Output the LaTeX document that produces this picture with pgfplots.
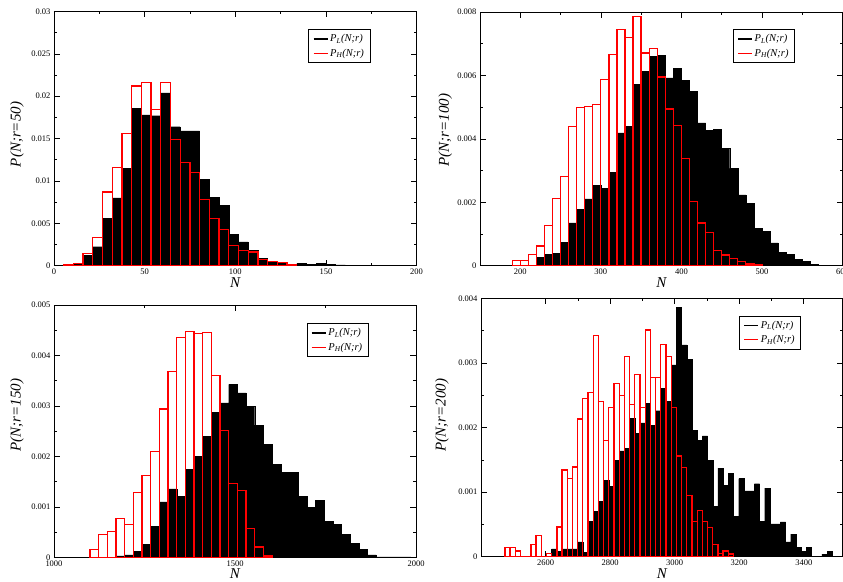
\documentclass[border=0pt]{standalone}
\usepackage{fontspec}
\setmainfont{Liberation Serif}
\usepackage{pgfplots}
\usepackage{pgfplotstable}
\pgfplotsset{compat=1.18}

% ---------- panel 1 (r=50): bins start 10.66, width 5.36 ----------
\pgfplotstableread{
k y
0 0.0002
1 0.00118
2 0.00224
3 0.0056
4 0.0080
5 0.0115
6 0.0186
7 0.0178
8 0.0177
9 0.0204
10 0.0164
11 0.0159
12 0.0159
13 0.0102
14 0.0081
15 0.0071
16 0.0037
17 0.0028
18 0.0018
19 0.0009
20 0.0005
21 0.0004
22 0.00016
23 0.0003
24 0.00016
25 0.00024
26 0.00016
27 0.0001
28 0
}\Ablack
\pgfplotstableread{
k y
-1 0.0001
0 0.0003
1 0.00145
2 0.0033
3 0.0087
4 0.0116
5 0.0156
6 0.0212
7 0.0216
8 0.0184
9 0.0216
10 0.0149
11 0.0122
12 0.0110
13 0.0078
14 0.0056
15 0.0043
16 0.0024
17 0.0018
18 0.0016
19 0.0007
20 0.0005
21 0.0004
22 0.0001
23 0
}\Ared

% ---------- panel 2 (r=100): bin width 10 ----------
\pgfplotstableread{
x y
220 0.00027
230 0.00036
240 0.0004
250 0.00073
260 0.00135
270 0.00178
280 0.00211
290 0.00254
300 0.00244
310 0.00295
320 0.00419
330 0.0044
340 0.00572
350 0.00613
360 0.00661
370 0.00664
380 0.00592
390 0.00622
400 0.00584
410 0.0055
420 0.0045
430 0.00427
440 0.0043
450 0.0037
460 0.00307
470 0.00223
480 0.00196
490 0.00118
500 0.00109
510 0.00072
520 0.00042
530 0.00036
540 0.00019
550 0.00014
560 0.00004
570 0
}\Bblack
\pgfplotstableread{
x y
190 0.00017
200 0.00017
210 0.00036
220 0.00062
230 0.00127
240 0.00212
250 0.00282
260 0.00438
270 0.00498
280 0.00502
290 0.00509
300 0.00588
310 0.00667
320 0.00744
330 0.00719
340 0.00786
350 0.00671
360 0.00685
370 0.00595
380 0.00494
390 0.00442
400 0.00337
410 0.00202
420 0.00135
430 0.00105
440 0.00047
450 0.00034
460 0.00023
470 0.00014
480 0.00005
490 0.00002
500 0
}\Bred

% ---------- panel 3 (r=150): bins start 1099.5, width 23.95 ----------
\pgfplotstableread{
k y
3 0.00003
4 0.00005
5 0.00012
6 0.00026
7 0.00061
8 0.0011
9 0.00136
10 0.00121
11 0.00174
12 0.002
13 0.0024
14 0.00287
15 0.00306
16 0.00343
17 0.00326
18 0.003
19 0.00262
20 0.00224
21 0.00184
22 0.00168
23 0.00168
24 0.00121
25 0.001
26 0.00113
27 0.00071
28 0.00065
29 0.00046
30 0.00028
31 0.000165
32 0.00005
33 0.00001
34 0.00001
35 0.00001
36 0.00001
37 0
}\Cblack
\pgfplotstableread{
k y
0 0.000165
1 0.00046
2 0.00051
3 0.00077
4 0.00065
5 0.00129
6 0.00162
7 0.0021
8 0.00294
9 0.00369
10 0.00435
11 0.00448
12 0.00444
13 0.00445
14 0.00361
15 0.00252
16 0.00146
17 0.00133
18 0.00058
19 0.00021
20 0.00003
21 0
}\Cred

% ---------- panel 4 (r=200): bins start 2474, width 16.1 ----------
\pgfplotstableread{
k y
8 0
9 0.00012
10 0.00008
11 0.00012
12 0.00012
13 0.00012
14 0.00023
15 0.00007
16 0.00055
17 0.0007
18 0.00086
19 0.00118
20 0.00109
21 0.00149
22 0.00164
23 0.00168
24 0.00214
25 0.00191
26 0.00207
27 0.00237
28 0.00203
29 0.00226
30 0.00261
31 0.00241
32 0.00297
33 0.00386
34 0.00328
35 0.00305
36 0.00196
37 0.0018
38 0.00187
39 0.00149
40 0.00078
41 0.00137
42 0.0011
43 0.00129
44 0.00063
45 0.00121
46 0.00102
47 0.00102
48 0.00113
49 0.00055
50 0.00106
51 0.00051
52 0.00051
53 0.00054
54 0.00023
55 0.00035
56 0.00015
57 0.00008
58 0.00015
59 0
60 0
61 0.00004
62 0.00008
63 0
}\Dblack
\pgfplotstableread{
k y
0 0.00014
1 0.00014
2 0.00009
3 0
4 0
5 0.00019
6 0.00033
7 0
8 0.00005
9 0
10 0.00046
11 0.00134
12 0.00121
13 0.00139
14 0.00213
15 0.00245
16 0.00254
17 0.00342
18 0.0024
19 0.0018
20 0.00231
21 0.00268
22 0.0025
23 0.0031
24 0.00236
25 0.00282
26 0.00231
27 0.00351
28 0.00277
29 0.00277
30 0.00328
31 0.0031
32 0.00231
33 0.00156
34 0.00138
35 0.00095
36 0.00055
37 0.00072
38 0.00054
39 0.00045
40 0.00019
41 0.00005
42 0.00009
43 0.00004
44 0
}\Dred

\definecolor{hred}{RGB}{255,0,0}
\pgfplotsset{
  panel/.style={
    scale only axis,
    anchor=south west,
    axis line style={line width=0.8pt},
    every tick/.style={black, line width=0.6pt},
    major tick length=6pt, minor tick length=3pt,
    tick align=inside,
    minor x tick num=1, minor y tick num=1,
    scaled ticks=false,
    /pgf/number format/assume math mode=true,
    /pgf/number format/1000 sep={},
    yticklabel style={/pgf/number format/fixed, /pgf/number format/precision=3},
    tick label style={font=\fontsize{8.5}{9}\selectfont},
    label style={font=\fontsize{15}{15}\selectfont\itshape},
    xlabel={N},
    x label style={at={(axis description cs:0.5,-0.065)}, anchor=center},
    legend cell align=left,
    legend image code/.code={\draw[#1, line width=1.3pt] (0pt,0pt) -- (14pt,0pt);},
    legend style={draw=black, line width=0.8pt, anchor=north west,
      font=\fontsize{10.5}{12}\selectfont\itshape, inner xsep=4pt, inner ysep=3pt, row sep=1.5pt},
  },
  blk/.style={ybar interval, fill=black, draw=black, line width=0.4pt, forget plot},
  rd/.style={ybar interval, fill=none, draw=hred, line width=1.3pt, forget plot},
}

\begin{document}
\begin{tikzpicture}
\path[use as bounding box] (0,0) rectangle (843pt,581pt);

% ---------------- panel 1 ----------------
\begin{axis}[panel, at={(54pt,315.3pt)}, width=362.5pt, height=254.2pt,
  xmin=0, xmax=200, ymin=0, ymax=0.03,
  xtick={0,50,100,150,200}, ytick={0,0.005,0.01,0.015,0.02,0.025,0.03},
  ylabel={P(N;r=50)},
  y label style={at={(axis description cs:-0.102,0.516)}, anchor=center},
  legend style={at={(0.702,0.93)}}]
\addplot[blk] table[x expr=10.66+5.36*\thisrow{k}, y=y] {\Ablack};
\addplot[rd] table[x expr=10.66+5.36*\thisrow{k}, y=y] {\Ared};
\addlegendimage{black}
\addlegendentry{P\textsubscript{L}(N;r)}
\addlegendimage{hred}
\addlegendentry{P\textsubscript{H}(N;r)}
\end{axis}

% ---------------- panel 2 ----------------
\begin{axis}[panel, at={(480pt,315.3pt)}, width=362.5pt, height=253.7pt,
  xmin=150, xmax=600, ymin=0, ymax=0.008,
  xtick={200,300,400,500,600}, ytick={0,0.002,0.004,0.006,0.008},
  ylabel={P(N;r=100)},
  y label style={at={(axis description cs:-0.096,0.535)}, anchor=center},
  legend style={at={(0.698,0.932)}}]
\addplot[blk] table[x=x, y=y] {\Bblack};
\addplot[rd] table[x=x, y=y] {\Bred};
\addlegendimage{black}
\addlegendentry{P\textsubscript{L}(N;r)}
\addlegendimage{hred}
\addlegendentry{P\textsubscript{H}(N;r)}
\end{axis}

% ---------------- panel 3 ----------------
\begin{axis}[panel, at={(54pt,23.5pt)}, width=362pt, height=252.5pt,
  xmin=1000, xmax=2000, ymin=0, ymax=0.005,
  xtick={1000,1500,2000}, ytick={0,0.001,0.002,0.003,0.004,0.005},
  ylabel={P(N;r=150)},
  y label style={at={(axis description cs:-0.102,0.564)}, anchor=center},
  legend style={at={(0.698,0.9275)}}]
\addplot[blk] table[x expr=1099.5+23.95*\thisrow{k}, y=y] {\Cblack};
\addplot[rd] table[x expr=1099.5+23.95*\thisrow{k}, y=y] {\Cred};
\addlegendimage{black}
\addlegendentry{P\textsubscript{L}(N;r)}
\addlegendimage{hred}
\addlegendentry{P\textsubscript{H}(N;r)}
\end{axis}

% ---------------- panel 4 ----------------
\begin{axis}[panel, at={(481pt,24.3pt)}, width=361.5pt, height=258.4pt,
  xmin=2400, xmax=3520, ymin=0, ymax=0.004,
  xtick={2600,2800,3000,3200,3400}, ytick={0,0.001,0.002,0.003,0.004},
  ylabel={P(N;r=200)},
  y label style={at={(axis description cs:-0.108,0.548)}, anchor=center},
  legend style={at={(0.714,0.933)}}]
\addplot[blk] table[x expr=2474+16.1*\thisrow{k}, y=y] {\Dblack};
\addplot[rd] table[x expr=2474+16.1*\thisrow{k}, y=y] {\Dred};
\addlegendimage{black}
\addlegendentry{P\textsubscript{L}(N;r)}
\addlegendimage{hred}
\addlegendentry{P\textsubscript{H}(N;r)}
\end{axis}
\end{tikzpicture}
\end{document}
